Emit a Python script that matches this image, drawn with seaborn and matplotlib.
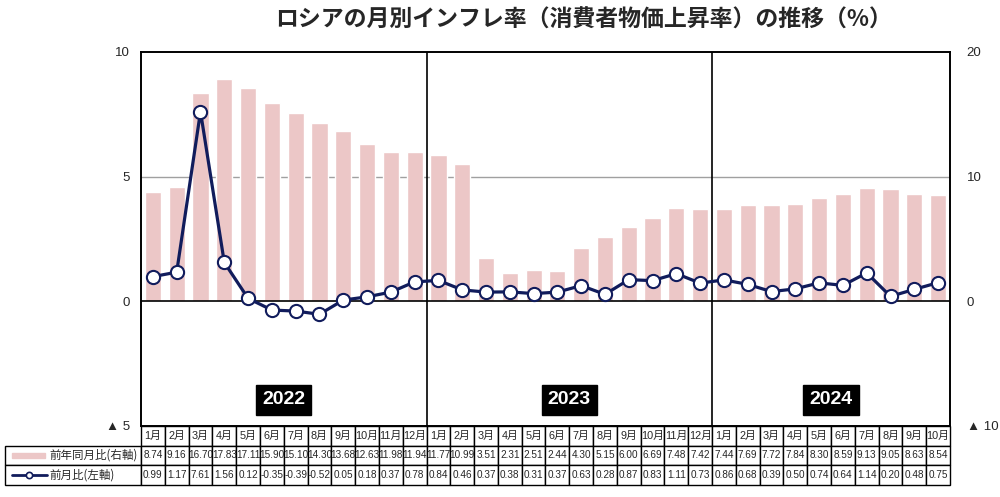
import numpy as np
import pandas as pd
import matplotlib
matplotlib.use("Agg")
import matplotlib.pyplot as plt
import seaborn as sns

# DATA
years = ["2022", "2023", "2024"]
months_per_year = [12, 12, 10]
month_labels = [f"{m}月" for m in range(1, 13)] * 2 + [f"{m}月" for m in range(1, 11)]
yoy = [8.74, 9.16, 16.70, 17.83, 17.11, 15.90, 15.10, 14.30, 13.68, 12.63, 11.98, 11.94,
       11.77, 10.99, 3.51, 2.31, 2.51, 2.44, 4.30, 5.15, 6.00, 6.69, 7.48, 7.42,
       7.44, 7.69, 7.72, 7.84, 8.30, 8.59, 9.13, 9.05, 8.63, 8.54]
mom = [0.99, 1.17, 7.61, 1.56, 0.12, -0.35, -0.39, -0.52, 0.05, 0.18, 0.37, 0.78,
       0.84, 0.46, 0.37, 0.38, 0.31, 0.37, 0.63, 0.28, 0.87, 0.83, 1.11, 0.73,
       0.86, 0.68, 0.39, 0.50, 0.74, 0.64, 1.14, 0.20, 0.48, 0.75]
left_ticks = [-5, 0, 5, 10]
left_ticklabels = ["▲ 5", "0", "5", "10"]
right_ticks = [-10, 0, 10, 20]
right_ticklabels = ["▲ 10", "0", "10", "20"]
title = "ロシアの月別インフレ率（消費者物価上昇率）の推移（%）"
label_yoy = "前年同月比(右軸)"
label_mom = "前月比(左軸)"

BAR_COLOR = "#ecc7c7"
LINE_COLOR = "#111c5c"
JP = ["Noto Sans CJK JP", "DejaVu Sans"]
NUM = ["Liberation Sans Narrow", "Liberation Sans", "Noto Sans CJK JP", "DejaVu Sans"]

sns.set_style("white")
plt.rcParams["font.family"] = NUM

df = pd.DataFrame({"idx": np.arange(len(yoy)), "yoy": yoy, "mom": mom})

fig = plt.figure(figsize=(10, 4.97), dpi=100)
ax = fig.add_axes([0.141, 1 - 426 / 497, 0.809, (426 - 52) / 497])
ax2 = ax.twinx()

# bars on right axis
sns.barplot(data=df, x="idx", y="yoy", ax=ax2, color=BAR_COLOR, saturation=1,
            width=0.68, zorder=2)
ax2.set_ylim(-10, 20)
ax2.axhline(10, color="#a0a0a0", lw=1, zorder=1)

# line on left axis
sns.lineplot(data=df, x="idx", y="mom", ax=ax, color=LINE_COLOR, lw=2.3,
             marker="o", markersize=9.5, markerfacecolor="white",
             markeredgecolor=LINE_COLOR, markeredgewidth=1.5, zorder=5)
ax.set_ylim(-5, 10)
ax.set_zorder(ax2.get_zorder() + 1)
ax.patch.set_visible(False)

ax.set_xlim(-0.5, len(yoy) - 0.5)
ax2.set_xlim(-0.5, len(yoy) - 0.5)
ax.axhline(0, color="black", lw=1.2, zorder=3)

# year separators and labels
bounds = np.cumsum([0] + months_per_year) - 0.5
for b in bounds[1:-1]:
    ax.axvline(b, color="black", lw=1.2, zorder=3)
for i, y in enumerate(years):
    c = (bounds[i] + bounds[i + 1]) / 2
    ax.text(c, -3.95, y, ha="center", va="center", color="white", fontsize=14,
            fontweight="bold", family=["Liberation Sans", "DejaVu Sans"],
            bbox=dict(facecolor="black", edgecolor="black", pad=4.5))

ax.set_xticks([])
ax2.set_xticks([])
ax.set_xlabel("")
ax2.set_xlabel("")
ax.set_ylabel("")
ax2.set_ylabel("")
ax.set_yticks(left_ticks)
ax.set_yticklabels(left_ticklabels, family=["Liberation Sans", "Noto Sans CJK JP"], fontsize=9.5)
ax2.set_yticks(right_ticks)
ax2.set_yticklabels(right_ticklabels, family=["Liberation Sans", "Noto Sans CJK JP"], fontsize=9.5)
ax.tick_params(axis="y", length=0, pad=8)
ax2.tick_params(axis="y", length=0, pad=12)
for a in (ax, ax2):
    for s in a.spines.values():
        s.set_color("black")
        s.set_linewidth(1.2)

fig.text(0.584, 1 - 20 / 497, title, ha="center", va="center", fontsize=16.5,
         fontweight="bold", family=JP)

# data table
tax = fig.add_axes([5 / 1000, (497 - 485) / 497, 945 / 1000, 59 / 497])
tax.axis("off")
n = len(yoy)
rows = [[""] + month_labels,
        [""] + [f"{v:.2f}" for v in yoy],
        [""] + [f"{v:.2f}" for v in mom]]
first_w = 136 / 945
col_w = (1 - first_w) / n
tbl = tax.table(cellText=rows, colWidths=[first_w] + [col_w] * n,
                bbox=[0, 0, 1, 1], cellLoc="center")
tbl.auto_set_font_size(False)
for (r, c), cell in tbl.get_celld().items():
    cell.set_linewidth(1)
    cell.set_edgecolor("black")
    txt = cell.get_text()
    if r == 0:
        txt.set_fontsize(7.8)
        txt.set_fontfamily(["Liberation Sans", "Noto Sans CJK JP"])
    else:
        txt.set_fontsize(7.2)
        txt.set_fontfamily(NUM)
    cell.PAD = 0.02
tbl[0, 0].visible_edges = ""

# legend swatches in row label cells
def fx(px):
    return (px - 5) / 945

tax.add_patch(plt.Rectangle((fx(12), 0.5 - 0.05), fx(45) - fx(12), 0.1,
                            transform=tax.transAxes, color=BAR_COLOR, zorder=5))
tax.plot([fx(12), fx(47)], [1 / 6, 1 / 6], transform=tax.transAxes,
         color=LINE_COLOR, lw=2, zorder=5)
tax.plot([fx(29)], [1 / 6], transform=tax.transAxes, marker="o", markersize=4.5,
         markerfacecolor="white", markeredgecolor=LINE_COLOR, markeredgewidth=1.2,
         color=LINE_COLOR, zorder=6)
tax.text(fx(49), 0.5, label_yoy, transform=tax.transAxes, ha="left", va="center",
         fontsize=8.3, family=JP, zorder=7)
tax.text(fx(49), 1 / 6, label_mom, transform=tax.transAxes, ha="left", va="center",
         fontsize=8.3, family=JP, zorder=7)

fig.savefig("out.png", dpi=100, facecolor="white")
